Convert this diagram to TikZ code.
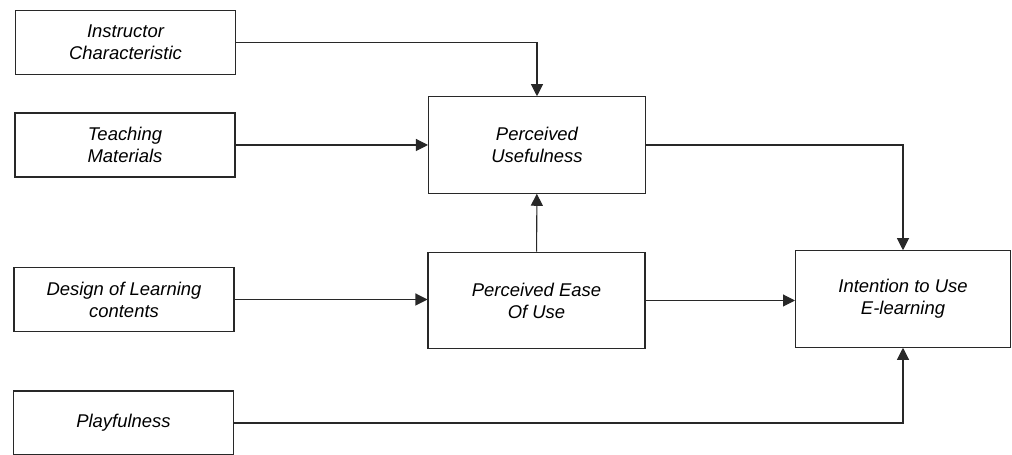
\documentclass[tikz,border=0pt]{standalone}
\usepackage{fontspec}
\setmainfont{Liberation Sans}
\usepackage{tikz}
\usetikzlibrary{arrows.meta}
\definecolor{tamInk}{RGB}{40,40,40}

\begin{document}
\begin{tikzpicture}[x=0.02cm,y=-0.02cm,
  box/.style={draw=tamInk,line width=0.6pt,align=center,inner sep=2pt,
              font=\fontsize{10.5}{12.5}\selectfont\itshape},
  outer/.style={box,minimum width=4.4cm,minimum height=1.28cm},
  inner/.style={box,minimum width=4.34cm,minimum height=1.93cm},
  arr/.style={-{Triangle[length=2.4mm,width=2.4mm]},line width=0.6pt,draw=tamInk}]

\useasboundingbox (0,0) rectangle (1012,455);

% external factors
\node[outer] (instr)  at (125.5,42.5) {Instructor\\Characteristic};
\node[outer] (teach)  at (125,145)    {Teaching\\Materials};
\node[outer] (design) at (124,299.5)  {Design of Learning\\contents};
\node[outer] (play)   at (123.5,423)  {Playfulness};

% TAM constructs
\node[inner] (pu)   at (537,145)   {Perceived\\Usefulness};
\node[inner] (peou) at (536.5,300.5) {Perceived Ease\\Of Use};
\node[inner,minimum width=4.3cm] (itu) at (903,299) {Intention to Use\\E-learning};

\draw[arr] (instr.east) -| (pu.north);
\draw[arr] (teach) -- (pu);
\draw[arr] (peou) -- (pu);
\draw[arr] (design.east) -- (design.east -| peou.west);
\draw[arr] (peou.east) -- (peou.east -| itu.west);
\draw[arr] (pu.east) -| (itu.north);
\draw[arr] (play.east) -| (itu.south);
\end{tikzpicture}
\end{document}
